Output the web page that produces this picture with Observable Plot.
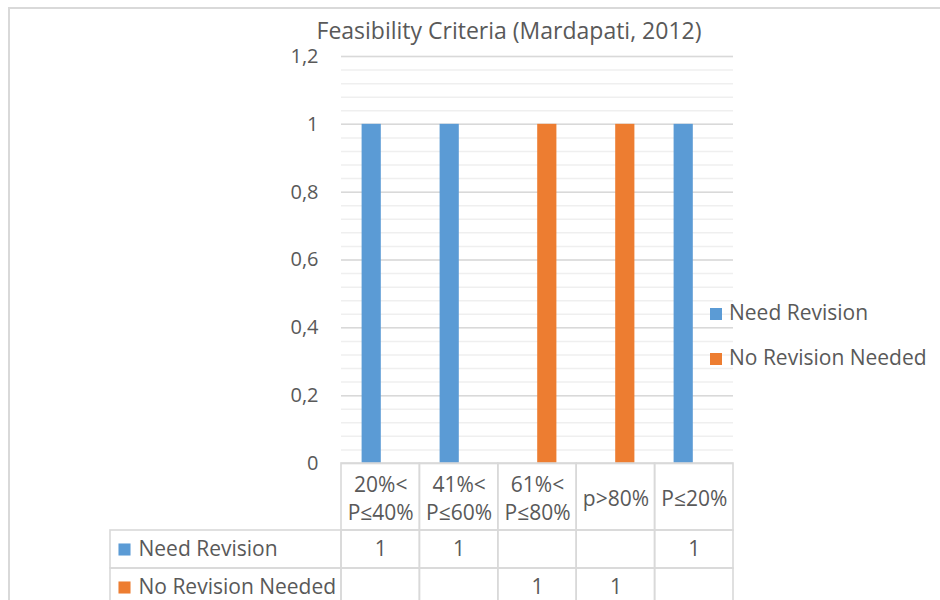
<!DOCTYPE html>
<html>
<head>
<meta charset="utf-8">
<script src="https://cdn.jsdelivr.net/npm/d3@7"></script>
<script src="https://cdn.jsdelivr.net/npm/@observablehq/plot@0.6"></script>
<style>
  body { margin: 0; background: #fff; }
  #wrap { position: relative; width: 940px; height: 600px; overflow: hidden; font-family: "Open Sans", sans-serif; color: #595959; }
  #border { position: absolute; left: 8px; top: 7px; width: 1000px; height: 1000px; border: 2px solid #d9d9d9; box-sizing: border-box; }
  #title { position: absolute; left: 259px; width: 500px; top: 16px; text-align: center; font-size: 23px; line-height: 28px; white-space: nowrap; }
  .layer { position: absolute; left: 0; top: 0; }
  .lg { position: absolute; left: 710px; font-size: 21px; line-height: 28px; white-space: nowrap; }
  .sw { display: inline-block; width: 12px; height: 12px; margin-right: 7px; vertical-align: 0px; }
</style>
</head>
<body>
<div id="wrap">
  <div id="border"></div>
  <div id="chart" class="layer"></div>
  <div id="table" class="layer"></div>
  <div id="title"></div>
  <div id="legend"></div>
</div>
<script>
// ---- data ----
const title = "Feasibility Criteria (Mardapati, 2012)";
const categories = ["20%< P≤40%", "41%< P≤60%", "61%< P≤80%", "p>80%", "P≤20%"];
const seriesNames = ["Need Revision", "No Revision Needed"];
const needRevision = [1, 1, null, null, 1];
const noRevisionNeeded = [null, null, 1, 1, null];
const yTicks = [0, 0.2, 0.4, 0.6, 0.8, 1, 1.2];
const yTickLabels = ["0", "0,2", "0,4", "0,6", "0,8", "1", "1,2"];
const colors = ["#5B9BD5", "#ED7D31"];
const seriesValues = [needRevision, noRevisionNeeded];

// ---- chart ----
const rowsOf = (vals, s) => categories.map((c, i) => ({category: c, series: s, value: vals[i]})).filter(d => d.value != null);
const minorTicks = d3.range(0, 1.2001, 0.04);
const fmt = d => yTickLabels[yTicks.findIndex(t => Math.abs(t - d) < 1e-9)];

const chart = Plot.plot({
  width: 940, height: 600,
  marginLeft: 341, marginRight: 207, marginTop: 56, marginBottom: 137,
  style: {fontFamily: "'Open Sans', sans-serif", fontSize: "20px", color: "#595959", background: "transparent"},
  x: {domain: categories, padding: 0, axis: null},
  y: {domain: [0, 1.2], ticks: yTicks, tickFormat: fmt, tickSize: 0, tickPadding: 23, label: null},
  marks: [
    Plot.ruleY(minorTicks, {stroke: "#efefef", strokeWidth: 1.5}),
    Plot.ruleY(yTicks, {stroke: "#d9d9d9", strokeWidth: 1.5}),
    Plot.barY(rowsOf(needRevision, seriesNames[0]), {x: "category", y: "value", fill: colors[0], insetLeft: 19.6, insetRight: 39.2}),
    Plot.barY(rowsOf(noRevisionNeeded, seriesNames[1]), {x: "category", y: "value", fill: colors[1], insetLeft: 39.2, insetRight: 19.6})
  ]
});
document.getElementById("chart").appendChild(chart);

// ---- data table (same column widths as the chart's band scale) ----
const colW = (940 - 341 - 207) / categories.length;
const lab = -(341 - 110) / colW;          // label column start, in column units
const hdr = 67 / 38;                      // header row height, in row units
const cells = [];
seriesNames.forEach((s, r) => {
  cells.push({r, c: -1, text: ""});
  categories.forEach((cat, c) => cells.push({r, c, text: seriesValues[r][c] == null ? "" : String(seriesValues[r][c])}));
});
const border = {stroke: "#d9d9d9", strokeWidth: 1.6, fill: "none"};
const table = Plot.plot({
  width: 940, height: 600,
  marginLeft: 110, marginRight: 207, marginTop: 0, marginBottom: 0,
  style: {fontFamily: "'Open Sans', sans-serif", fontSize: "21px", color: "#595959", background: "transparent"},
  x: {domain: [lab, categories.length], axis: null},
  y: {domain: [0, 3.5], range: [463, 596], axis: null},
  color: {type: "identity"},
  marks: [
    Plot.rect(categories, {x1: (d, i) => i, x2: (d, i) => i + 1, y1: 0, y2: hdr, ...border}),
    Plot.rect(cells, {x1: d => d.c < 0 ? lab : d.c, x2: d => d.c < 0 ? 0 : d.c + 1, y1: d => hdr + d.r, y2: d => hdr + d.r + 1, ...border}),
    Plot.text(categories, {x: (d, i) => i + 0.5, y: hdr / 2, text: d => d.split(" ").join("\n"), lineHeight: 1.35, fill: "#595959", fontSize: 21}),
    Plot.text(cells.filter(d => d.c >= 0), {x: d => d.c + 0.5, y: d => hdr + d.r + 0.5, text: "text", fill: "#595959", fontSize: 21}),
    Plot.dot(seriesNames, {x: lab, y: (d, i) => hdr + i + 0.5, dx: 14, symbol: "square", r: 6.8, fill: (d, i) => colors[i]}),
    Plot.text(seriesNames, {x: lab, y: (d, i) => hdr + i + 0.5, dx: 28, text: d => d, textAnchor: "start", fill: "#595959", fontSize: 21})
  ]
});
document.getElementById("table").appendChild(table);

// ---- title & legend ----
document.getElementById("title").textContent = title;
const legend = document.getElementById("legend");
const legendTops = [298, 343];
seriesNames.forEach((s, i) => {
  const div = document.createElement("div");
  div.className = "lg";
  div.style.top = legendTops[i] + "px";
  const sw = document.createElement("span");
  sw.className = "sw";
  sw.style.background = colors[i];
  div.appendChild(sw);
  div.appendChild(document.createTextNode(s));
  legend.appendChild(div);
});
</script>
</body>
</html>
